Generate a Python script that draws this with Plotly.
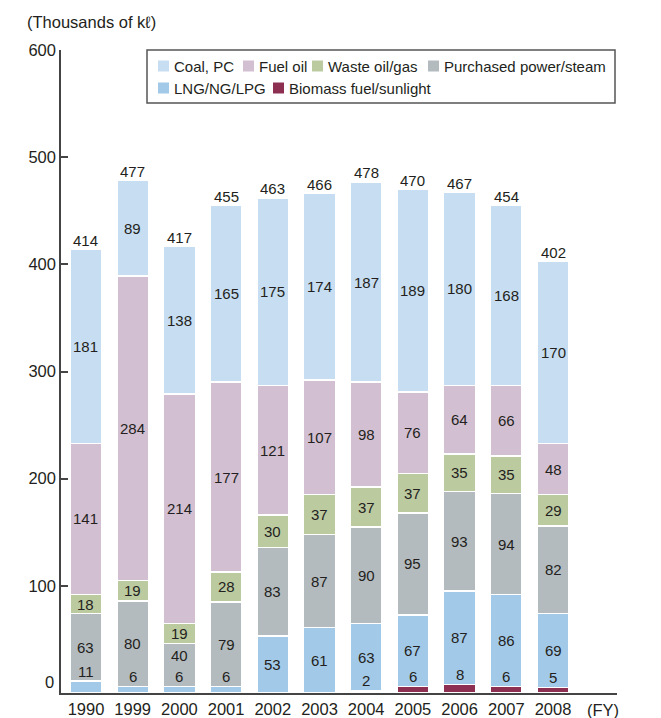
import plotly.graph_objects as go

# ---------------- data ----------------
years = ["1990", "1999", "2000", "2001", "2002", "2003", "2004", "2005", "2006", "2007", "2008"]
totals = [414, 477, 417, 455, 463, 466, 478, 470, 467, 454, 402]
biomass = [0, 0, 0, 0, 0, 0, 2, 6, 8, 6, 5]
lng = [11, 6, 6, 6, 53, 61, 63, 67, 87, 86, 69]
purchased = [63, 80, 40, 79, 83, 87, 90, 95, 93, 94, 82]
waste_oil = [18, 19, 19, 28, 30, 37, 37, 37, 35, 35, 29]
fuel_oil = [141, 284, 214, 177, 121, 107, 98, 76, 64, 66, 48]
coal = [181, 89, 138, 165, 175, 174, 187, 189, 180, 168, 170]
y_ticks = [100, 200, 300, 400, 500, 600]

# stacking order bottom -> top
stack_names = ["Biomass fuel/sunlight", "LNG/NG/LPG", "Purchased power/steam",
               "Waste oil/gas", "Fuel oil", "Coal, PC"]
stack_values = [biomass, lng, purchased, waste_oil, fuel_oil, coal]
stack_colors = ["#8c2f50", "#a3c9e8", "#b4bbbf", "#bccaa0", "#d3bfd2", "#c7ddf1"]

# ---------------- layout geometry (pixels) ----------------
W, H = 661, 718
L, R, T, B = 61, 617, 50, 693
FONT = "Liberation Sans, Arial, Helvetica, sans-serif"
TXT = "#231f20"
PX_PER_UNIT = (B - T) / 600.0


def px_x(x):
    return (x - L) / (R - L)


def px_y(y):
    return (B - y) / (B - T)


fig = go.Figure()
for name, vals, col in zip(stack_names, stack_values, stack_colors):
    fig.add_trace(go.Bar(
        x=years, y=[v if v else None for v in vals], name=name,
        marker=dict(color=col, line=dict(color="white", width=1.5)),
        showlegend=False, hoverinfo="x+y+name"))

annotations = []
lab_font = dict(size=15, color=TXT, family=FONT)
# segment labels (x given as category index)
base = [0] * len(years)
small_label_px = [None] * len(years)   # pixel height (from zero) of a raised small label
for vals in stack_values:
    for j, v in enumerate(vals):
        if v:
            if v >= 15:
                shift = 0
                center_px = (base[j] + v / 2) * PX_PER_UNIT
                if small_label_px[j] is not None and center_px - small_label_px[j] < 21:
                    shift = small_label_px[j] + 21 - center_px
                annotations.append(dict(x=j, y=base[j] + v / 2, text=str(v),
                                        showarrow=False, yanchor="middle", yshift=shift,
                                        font=lab_font))
                small_label_px[j] = None
            else:
                annotations.append(dict(x=j, y=base[j] + v, text=str(v),
                                        showarrow=False, yanchor="middle", yshift=10,
                                        font=lab_font))
                small_label_px[j] = (base[j] + v) * PX_PER_UNIT + 10
        base[j] += v

# totals
for j, t in enumerate(totals):
    annotations.append(dict(x=j, y=base[j], text=str(t), showarrow=False,
                            yanchor="middle", yshift=9, font=lab_font))

# unit title
annotations.append(dict(xref="paper", yref="paper", x=px_x(25), y=px_y(22),
                        xanchor="left", yanchor="middle", showarrow=False,
                        text="(Thousands of kℓ)",
                        font=dict(size=16.5, color=TXT, family=FONT)))
# zero label (raised as in the original)
annotations.append(dict(xref="paper", yref="paper", x=px_x(56), y=px_y(682),
                        xanchor="right", yanchor="middle", showarrow=False,
                        text="0", font=dict(size=16.5, color=TXT, family=FONT)))
# (FY)
annotations.append(dict(xref="paper", yref="paper", x=px_x(603), y=px_y(710),
                        xanchor="center", yanchor="middle", showarrow=False,
                        text="(FY)", font=dict(size=16.5, color=TXT, family=FONT)))

# ---------------- legend (drawn) ----------------
shapes = []
shapes.append(dict(type="rect", xref="paper", yref="paper",
                   x0=px_x(147), x1=px_x(615), y0=px_y(103), y1=px_y(50),
                   line=dict(color="#555555", width=1.5), fillcolor="white", layer="above"))
legend_rows = [["Coal, PC", "Fuel oil", "Waste oil/gas", "Purchased power/steam"],
               ["LNG/NG/LPG", "Biomass fuel/sunlight"]]
legend_swatch_x = [[158, 243, 312, 428], [158, 273]]
legend_row_y = [66, 88]
for row, xs, yc in zip(legend_rows, legend_swatch_x, legend_row_y):
    for name, sx in zip(row, xs):
        col = stack_colors[stack_names.index(name)]
        shapes.append(dict(type="rect", xref="paper", yref="paper",
                           x0=px_x(sx), x1=px_x(sx + 11), y0=px_y(yc + 5.5), y1=px_y(yc - 5.5),
                           line=dict(width=0), fillcolor=col, layer="above"))
        annotations.append(dict(xref="paper", yref="paper", x=px_x(sx + 14), y=px_y(yc),
                                xanchor="left", yanchor="middle", showarrow=False,
                                text=name, font=dict(size=15, color=TXT, family=FONT)))

fig.update_layout(
    width=W, height=H,
    margin=dict(l=L, r=W - R, t=T, b=H - B, pad=0),
    plot_bgcolor="white", paper_bgcolor="white",
    barmode="stack", bargap=0.32,
    font=dict(family=FONT, color=TXT, size=16.5),
    annotations=annotations, shapes=shapes,
    xaxis=dict(type="category", categoryorder="array", categoryarray=years,
               range=[-0.535, 11.37], showline=True, linecolor="#444444", linewidth=1.5,
               ticks="", showgrid=False, zeroline=False, automargin=False,
               tickfont=dict(size=16.5, color=TXT, family=FONT)),
    yaxis=dict(range=[0, 600], tickvals=y_ticks, ticks="inside", ticklen=7, tickwidth=1.5,
               tickcolor="#444444", showline=True, linecolor="#444444", linewidth=1.5,
               showgrid=False, zeroline=False, automargin=False,
               tickfont=dict(size=16.5, color=TXT, family=FONT)),
)

fig.write_html("out.html", config={"displayModeBar": False},
               post_script="document.body.style.margin='0';document.body.style.padding='0';")
